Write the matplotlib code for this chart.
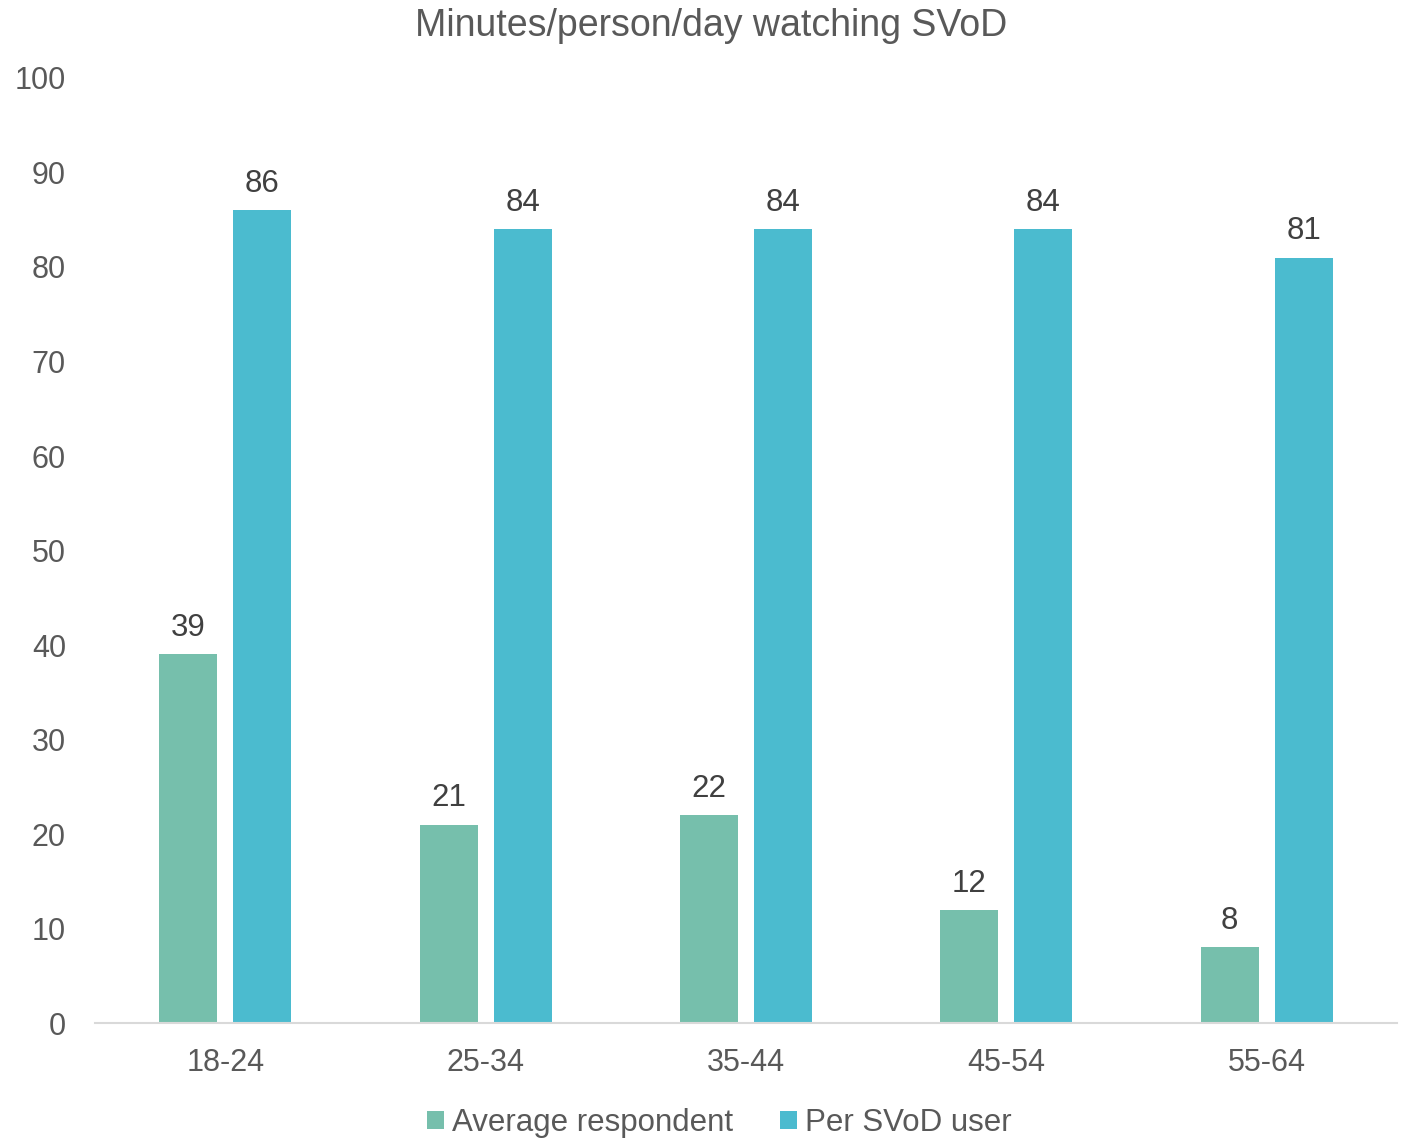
import matplotlib
matplotlib.use("Agg")
import matplotlib.pyplot as plt
import numpy as np

categories = ["18-24", "25-34", "35-44", "45-54", "55-64"]
average_respondent = [39, 21, 22, 12, 8]
per_svod_user = [86, 84, 84, 84, 81]
yticks = [0, 10, 20, 30, 40, 50, 60, 70, 80, 90, 100]

green = "#76BFAC"
blue = "#4BBBCF"
txt = "#595959"

plt.rcParams['font.family'] = ['Liberation Sans', 'DejaVu Sans']

fig = plt.figure(figsize=(14.02, 11.40), dpi=100)
ax = fig.add_axes([0.0678, 0.1026, 0.9286, 0.829])

x = np.arange(len(categories))
w = 0.223
off = 0.142
b1 = ax.bar(x - off, average_respondent, w, color=green, label="Average respondent")
b2 = ax.bar(x + off, per_svod_user, w, color=blue, label="Per SVoD user")

for bars, vals in ((b1, average_respondent), (b2, per_svod_user)):
    for r, v in zip(bars, vals):
        ax.annotate(str(v), (r.get_x() + r.get_width() / 2, v), xytext=(0, 8),
                    textcoords="offset points", ha="center", va="bottom",
                    fontsize=22.5, color="#404040")

ax.set_xlim(-0.5, 4.5)
ax.set_ylim(0, 100)
ax.set_yticks(yticks)
ax.set_xticks(x)
ax.set_xticklabels(categories)
ax.tick_params(axis="both", length=0, labelsize=22, labelcolor=txt)
ax.tick_params(axis="y", pad=21)
ax.tick_params(axis="x", pad=18)
for s in ("top", "right", "left"):
    ax.spines[s].set_visible(False)
ax.spines["bottom"].set_color("#D9D9D9")
ax.spines["bottom"].set_linewidth(1.5)

fig.suptitle("Minutes/person/day watching SVoD", x=0.507, y=0.993, fontsize=27, color=txt)

leg = fig.legend(loc="lower center", bbox_to_anchor=(0.513, -0.023), ncol=2, frameon=False,
                 fontsize=22.5, handlelength=0.55, handleheight=0.55, handletextpad=0.25,
                 columnspacing=1.5, labelcolor=txt)

fig.savefig("out.png", dpi=100)
